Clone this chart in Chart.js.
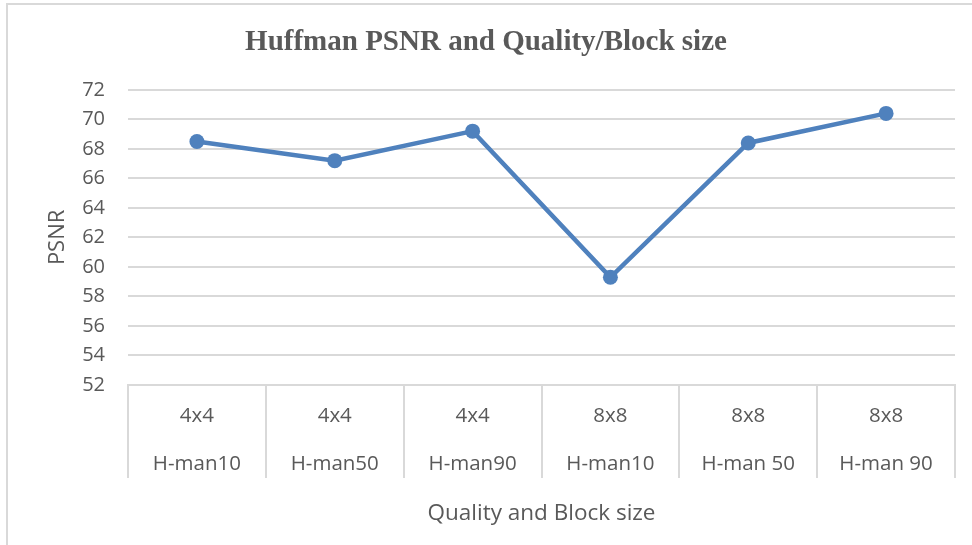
<!DOCTYPE html>
<html>
<head>
<meta charset="utf-8">
<script src="https://cdn.jsdelivr.net/npm/chart.js@4/dist/chart.umd.min.js"></script>
<style>
  html, body { margin: 0; padding: 0; background: #fff; }
  #wrap { position: relative; width: 972px; height: 545px; overflow: hidden; }
  #frame {
    position: absolute; left: 6px; top: 3px; right: -10px; bottom: -10px;
    border-left: 2px solid #d9d9d9; border-top: 2px solid #d9d9d9;
    pointer-events: none;
  }
  canvas { position: absolute; left: 0; top: 0; }
</style>
</head>
<body>
<div id="wrap">
  <canvas id="psnrChart" width="972" height="545"></canvas>
  <div id="frame"></div>
</div>
<script>
  "use strict";

  // =====
  // Data
  // =====
  const blockSizes = ["4x4", "4x4", "4x4", "8x8", "8x8", "8x8"];
  const qualityLabels = ["H-man10", "H-man50", "H-man90", "H-man10", "H-man 50", "H-man 90"];
  const psnrValues = [68.5, 67.2, 69.2, 59.3, 68.4, 70.4];
  const yMin = 52;
  const yMax = 72;
  const yStep = 2;

  const TEXT_COLOR = "#595959";
  const GRID_COLOR = "#d9d9d9";
  const LINE_COLOR = "#4f81bd";
  const FONT = "'Open Sans', 'Noto Sans', sans-serif";

  const labels = blockSizes.map((b, i) => [b, qualityLabels[i]]);

  const ctx = document.getElementById("psnrChart");
  new Chart(ctx, {
    type: "line",
    data: {
      labels: labels,
      datasets: [
        {
          label: "PSNR",
          data: psnrValues,
          borderColor: LINE_COLOR,
          backgroundColor: LINE_COLOR,
          borderWidth: 4.5,
          pointRadius: 7.5,
          pointBorderWidth: 0,
          pointBackgroundColor: LINE_COLOR,
          tension: 0,
        },
      ],
    },
    options: {
      responsive: false,
      animation: false,
      layout: {
        // symmetric side padding keeps the chart title centred on the page
        padding: { left: 17, right: 17, top: 0, bottom: 0 },
      },
      plugins: {
        legend: { display: false },
        tooltip: { enabled: false },
        title: {
          display: true,
          text: "Huffman PSNR and Quality/Block size",
          color: TEXT_COLOR,
          font: { family: "'Liberation Serif', 'Times New Roman', serif", size: 29, weight: "bold", lineHeight: 1.2 },
          padding: { top: 25, bottom: 30 },
        },
      },
      scales: {
        x: {
          offset: true,
          grid: {
            offset: true,
            drawOnChartArea: false,
            drawTicks: true,
            tickLength: 93,
            color: GRID_COLOR,
            lineWidth: 2,
          },
          border: { display: true, color: GRID_COLOR, width: 2 },
          ticks: {
            color: TEXT_COLOR,
            font: { family: FONT, size: 20.5, lineHeight: 48 / 20.5 },
            padding: -86,
            maxRotation: 0,
            autoSkip: false,
          },
          title: {
            display: true,
            text: "Quality and Block size",
            color: TEXT_COLOR,
            font: { family: FONT, size: 22.5, lineHeight: 1.2 },
            padding: { top: 0, bottom: 18 },
          },
          afterFit: (scale) => {
            scale.height = 545 - 385;
          },
        },
        y: {
          min: yMin,
          max: yMax,
          grid: {
            color: GRID_COLOR,
            lineWidth: 2,
            drawTicks: false,
          },
          border: { display: false },
          ticks: {
            stepSize: yStep,
            color: TEXT_COLOR,
            font: { family: FONT, size: 20 },
            padding: 23,
          },
          title: {
            display: true,
            text: "PSNR",
            color: TEXT_COLOR,
            font: { family: FONT, size: 22, lineHeight: 1.2 },
            padding: { top: 28, bottom: 0 },
          },
          afterFit: (scale) => {
            scale.width = 128 - 17;
          },
        },
      },
    },
  });
</script>
</body>
</html>
